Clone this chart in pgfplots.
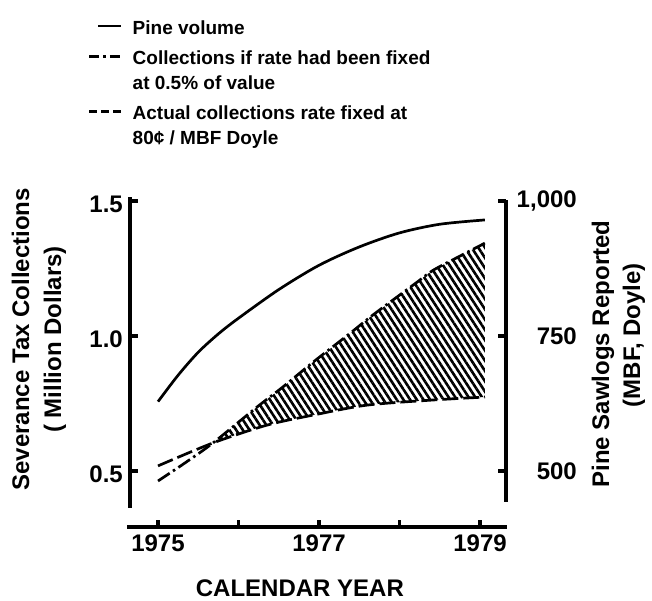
\documentclass[border=0pt]{standalone}
\usepackage{fontspec}
\setmainfont{Liberation Sans}
\usepackage{pgfplots}
\pgfplotsset{compat=1.18}
\usepgfplotslibrary{fillbetween}
\usetikzlibrary{patterns.meta}
\newcommand\sA{\rule[-6pt]{0pt}{25pt}}
\newcommand\sB{\rule[-6pt]{0pt}{31pt}}
\begin{document}
\begin{tikzpicture}
% ---------------- main axis (left scale + data) ----------------
\begin{axis}[
  at={(130pt,93pt)}, anchor=south west,
  scale only axis, width=376pt, height=311pt,
  xmin=1974.652, xmax=1979.323, ymin=0.363, ymax=1.515,
  axis x line=none, axis y line*=left,
  axis line style={line width=4pt},
  ytick={0.5,1,1.5}, yticklabels={0.5,1.0,1.5},
  tick align=inside, major tick length=8pt,
  major tick style={line width=3.5pt, black},
  yticklabel style={font=\fontsize{24}{24}\selectfont\bfseries, inner sep=0pt, anchor=east, xshift=-7pt, yshift=-3pt},
  ylabel={Severance Tax Collections\\( Million Dollars)},
  ylabel style={at={(axis description cs:-0.242,0.542)}, anchor=center, align=center, font=\fontsize{24}{32}\selectfont\bfseries},
  legend style={at={(-0.1117,1.5916)}, anchor=north west, draw=none, fill=none,
    inner sep=0pt, outer sep=0pt, row sep=0pt, column sep=8pt,
    font=\fontsize{19}{25}\selectfont\bfseries,
    cells={anchor=base west, inner sep=0pt}},
]
\addplot[name path=pine, line width=2.7pt, smooth,
  legend image code/.code={\draw[line width=2.7pt] (9pt,8pt) -- (32pt,8pt);}]
  coordinates {(1975.0,0.757) (1975.25,0.855) (1975.5,0.940) (1975.75,1.008) (1976.0,1.066)
               (1976.5,1.172) (1977.0,1.262) (1977.5,1.330) (1978.0,1.382) (1978.5,1.414) (1979.06,1.430)};
\addlegendentry{\sA Pine volume}
\addplot[name path=fixed, line width=2.7pt, smooth, dash pattern=on 14pt off 4pt on 2.5pt off 4pt,
  legend image code/.code={\draw[line width=2.7pt, dash pattern=on 10pt off 4pt on 2.5pt off 4pt] (0pt,8pt) -- (32pt,8pt);}]
  coordinates {(1975.0,0.463) (1975.35,0.533) (1975.683,0.604) (1976.23,0.737) (1976.55,0.811)
               (1976.93,0.904) (1977.39,1.011) (1977.67,1.078) (1978.22,1.200) (1978.42,1.244)
               (1978.75,1.296) (1979.06,1.344)};
\addlegendentry{\sB Collections if rate had been fixed}
\addlegendimage{empty legend}
\addlegendentry{\sA at 0.5\% of value}
\addplot[name path=actual, line width=2.7pt, smooth, dash pattern=on 16pt off 5pt,
  legend image code/.code={\draw[line width=2.7pt, dash pattern=on 8pt off 4pt] (0pt,8pt) -- (32pt,8pt);}]
  coordinates {(1975.0,0.519) (1975.683,0.604) (1976.354,0.670) (1976.925,0.707)
               (1977.596,0.744) (1978.416,0.763) (1979.062,0.774)};
\addlegendentry{\sB Actual collections rate fixed at}
\addlegendimage{empty legend}
\addlegendentry{\sA 80¢ / MBF Doyle}
\addplot[forget plot, draw=none, pattern={Lines[angle=-57, distance=5.6pt, line width=2.6pt]}]
  fill between[of=fixed and actual, soft clip={domain=1975.683:1979.062}];
\end{axis}
% ---------------- right axis ----------------
\begin{axis}[
  at={(130pt,99pt)}, anchor=south west,
  scale only axis, width=376pt, height=302pt,
  xmin=1974.652, xmax=1979.323, ymin=442.6, ymax=1002,
  axis x line=none, axis y line*=right,
  axis line style={line width=4pt},
  ytick={500,750,1000}, yticklabels={500,750,{1,000}},
  tick align=inside, major tick length=8pt,
  major tick style={line width=3.5pt, black},
  yticklabel style={font=\fontsize{24}{24}\selectfont\bfseries, inner sep=0pt, anchor=east, xshift=71pt},
  ylabel={Pine Sawlogs Reported\\\hspace*{38pt}(MBF, Doyle)},
  ylabel style={at={(axis description cs:1.299,0.490)}, anchor=center, align=center, font=\fontsize{24}{31}\selectfont\bfseries},
]
\addplot[draw=none, forget plot] coordinates {(1975,500) (1979,1000)};
\end{axis}
% ---------------- bottom axis ----------------
\begin{axis}[
  at={(127pt,74pt)}, anchor=south west,
  scale only axis, width=380pt, height=20pt,
  xmin=1974.615, xmax=1979.335, ymin=0, ymax=1,
  axis y line=none, axis x line*=bottom,
  axis line style={line width=3.5pt},
  xtick={1975,1976,1977,1978,1979}, xticklabels={1975,,1977,,1979},
  tick align=inside, major tick length=7pt,
  major tick style={line width=3.5pt, black},
  xticklabel style={font=\fontsize{24}{24}\selectfont\bfseries, inner sep=0pt, anchor=north, yshift=-8pt},
  xlabel={CALENDAR YEAR},
  xlabel style={at={(axis description cs:0.455,0)}, anchor=base, yshift=-70pt, font=\fontsize{24}{24}\selectfont\bfseries},
]
\addplot[draw=none, forget plot] coordinates {(1975,0.5) (1979,0.5)};
\end{axis}
\pgfresetboundingbox
\useasboundingbox (0pt,0pt) rectangle (652pt,601pt);
\end{tikzpicture}
\end{document}
